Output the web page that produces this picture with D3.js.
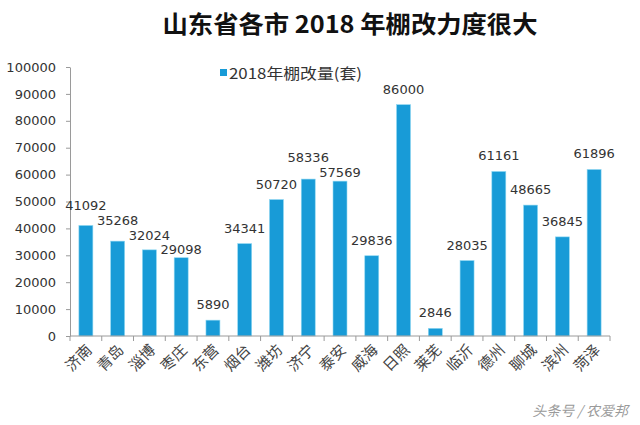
<!DOCTYPE html>
<html><head><meta charset="utf-8">
<script src="https://cdn.jsdelivr.net/npm/d3@7/dist/d3.min.js"></script>
<style>
html,body{margin:0;padding:0;background:#fff;}
svg{display:block;}
</style></head>
<body>
<svg id="chart" width="640" height="425"></svg>
<script>
const title = "山东省各市 2018 年棚改力度很大";
const seriesName = "2018年棚改量(套)";
const cities = ["济南","青岛","淄博","枣庄","东营","烟台","潍坊","济宁","泰安","威海","日照","莱芜","临沂","德州","聊城","滨州","菏泽"];
const values = [41092,35268,32024,29098,5890,34341,50720,58336,57569,29836,86000,2846,28035,61161,48665,36845,61896];
const yTicks = [0,10000,20000,30000,40000,50000,60000,70000,80000,90000,100000];
const watermark = "头条号 / 农爱邦";

const svg = d3.select("#chart");
const margin = {left:70, right:30, top:67, bottom:89};
const W = 640, H = 425;
const barColor = "#189bd7";
const axisColor = "#9a9a9a";
const textColor = "#333";

const x = d3.scaleBand().domain(cities).range([margin.left, W - margin.right])
  .paddingInner(0.56).paddingOuter(0.28);
const y = d3.scaleLinear().domain([0, 100000]).range([H - margin.bottom, margin.top]);

// title
svg.append("text").attr("x", 350).attr("y", 33).attr("text-anchor","middle")
  .attr("font-family","'Noto Sans CJK SC', sans-serif").attr("font-weight","bold")
  .attr("font-size", 24).attr("fill","#111")
  .attr("textLength", 375).attr("lengthAdjust","spacingAndGlyphs")
  .text(title);

// legend
svg.append("rect").attr("x",220).attr("y",69).attr("width",7).attr("height",7).attr("fill",barColor);
svg.append("text").attr("x",229).attr("y",78.5)
  .attr("font-family","'Noto Sans CJK SC', sans-serif").attr("font-size",15).attr("fill",textColor)
  .attr("textLength",133).attr("lengthAdjust","spacingAndGlyphs")
  .text(seriesName);

// y axis
const yAxis = svg.append("g").attr("transform",`translate(${margin.left},0)`)
  .call(d3.axisLeft(y).tickValues(yTicks).tickFormat(d3.format("d")).tickSize(4).tickPadding(10).tickSizeOuter(0));
yAxis.selectAll("path, line").attr("stroke", axisColor);
yAxis.selectAll("text").attr("font-family","'DejaVu Sans', Verdana, sans-serif").attr("font-size",13).attr("fill",textColor);

// bars
svg.append("g").selectAll("rect").data(values).join("rect")
  .attr("x",(d,i)=>x(cities[i])).attr("width",x.bandwidth())
  .attr("y",d=>y(d)).attr("height",d=>y(0)-y(d))
  .attr("fill",barColor).attr("stroke","#8fd8f2").attr("stroke-width",0.6);

// x axis
const step = x.step();
const y0 = y(0);
const xg = svg.append("g");
xg.append("line").attr("x1",margin.left).attr("x2",W-margin.right).attr("y1",y0).attr("y2",y0).attr("stroke",axisColor);
const bounds = cities.map(c => x(c) + x.bandwidth()/2 - step/2).concat([x(cities[cities.length-1]) + x.bandwidth()/2 + step/2]);
xg.selectAll("line.tk").data(bounds).join("line").attr("class","tk")
  .attr("x1",d=>d).attr("x2",d=>d).attr("y1",y0).attr("y2",y0+5).attr("stroke",axisColor);
xg.selectAll("text").data(cities).join("text")
  .attr("transform",c=>`translate(${x(c)+x.bandwidth()/2+7},${y0+15}) rotate(-45)`)
  .attr("text-anchor","end")
  .attr("font-family","'Noto Sans CJK SC', serif").attr("font-size",15).attr("fill","#444")
  .text(c=>c);

// data labels with simple neighbour collision avoidance
const labelY = values.map(v => y(v) - 11);
const minGap = 15;
for (let pass = 0; pass < 12; pass++) {
  for (let i = 0; i < labelY.length - 1; i++) {
    const d = Math.abs(labelY[i] - labelY[i+1]);
    if (d < minGap) {
      const deficit = (minGap - d) / 2;
      if (labelY[i] <= labelY[i+1]) { labelY[i] -= deficit; labelY[i+1] += deficit; }
      else { labelY[i] += deficit; labelY[i+1] -= deficit; }
    }
  }
}
svg.append("g").selectAll("text").data(values).join("text")
  .attr("x",(d,i)=>x(cities[i])+x.bandwidth()/2).attr("y",(d,i)=>Math.min(labelY[i], y(d)-4))
  .attr("text-anchor","middle")
  .attr("font-family","'DejaVu Sans', Verdana, sans-serif").attr("font-size",13).attr("fill",textColor)
  .text(d=>d);

// watermark
svg.append("text").attr("x",628).attr("y",416).attr("text-anchor","end")
  .attr("font-family","'Noto Sans CJK SC', sans-serif").attr("font-size",14).attr("fill","#9a9a9a")
  .attr("font-style","italic")
  .text(watermark);
</script>
</body></html>
